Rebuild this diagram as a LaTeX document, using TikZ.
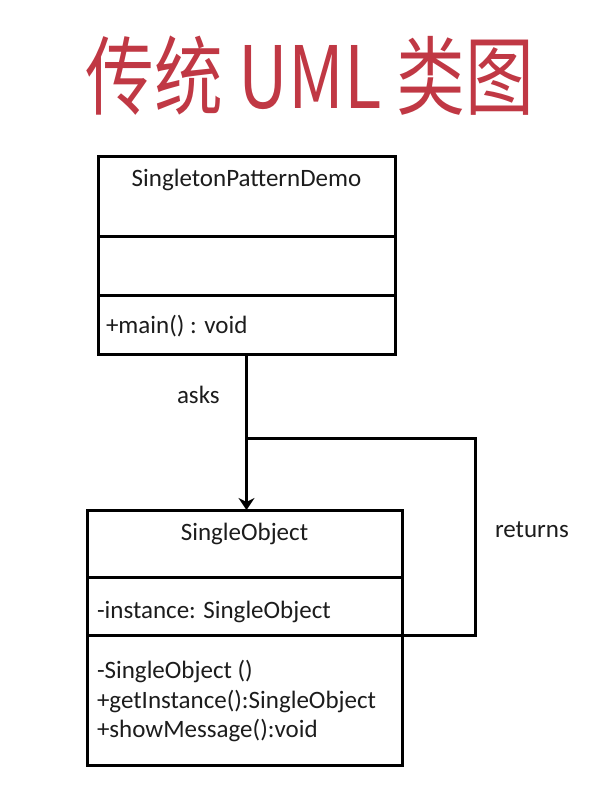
\documentclass[tikz,border=0pt]{standalone}
\usepackage{fontspec}
\setmainfont{Carlito}
\newfontfamily\cjk{Noto Sans CJK SC}
\usetikzlibrary{positioning,arrows.meta}
\definecolor{titlered}{RGB}{192,56,68}
\definecolor{umltext}{RGB}{28,28,28}

\begin{document}
\begin{tikzpicture}[x=1pt,y=-1pt]
        \tikzstyle{every node}=[inner sep=0pt, outer sep=0pt, text=umltext, font=\fontsize{25}{29}\selectfont]
        \tikzstyle{part}=[draw, line width=3pt, anchor=north west]
        \tikzstyle{member}=[anchor=base west]
        \tikzstyle{link}=[line width=3pt]
        \useasboundingbox (0,0) rectangle (613,785);
        \node[text=titlered, xscale=0.8, font=\cjk\fontsize{86}{90}\selectfont] (title) at (310,76) {传统 UML 类图};
        % SingletonPatternDemo
        \node[part, minimum width=297pt, minimum height=80pt] (demoname) at (98,156) {};
        \node[part, minimum width=297pt, minimum height=59pt] (demoattr) at (demoname.south west) {};
        \node[part, minimum width=297pt, minimum height=59pt] (demoops) at (demoattr.south west) {};
        \node[anchor=base] (demotitle) at (246.5,186) {SingletonPatternDemo};
        \node[member] (main) at (106,333) {+main() : void};
        % SingleObject
        \node[part, minimum width=315pt, minimum height=67pt] (objname) at (87,510) {};
        \node[part, minimum width=315pt, minimum height=58pt] (objattr) at (objname.south west) {};
        \node[part, minimum width=315pt, minimum height=130pt] (objops) at (objattr.south west) {};
        \node[anchor=base] (objtitle) at (244.5,540) {SingleObject};
        \node[member] (instance) at (97,618) {-instance: SingleObject};
        \node[member] (ctor) at (97,678) {-SingleObject ()};
        \node[member] (getinst) at (97,708) {+getInstance():SingleObject};
        \node[member] (showmsg) at (97,737) {+showMessage():void};
        % connectors
        \coordinate (split) at (246.5,438);
        \draw[link, -{Stealth[length=12pt, width=16pt]}] (demoops.south) -- (demoops.south |- objname.north);
        \draw[link] (split) -| ([xshift=73pt]objattr.south east) -- (objattr.south east);
        \node[member] (asks) at (177,403) {asks};
        \node[member] (returns) at (495,537) {returns};
    \end{tikzpicture}
\end{document}
